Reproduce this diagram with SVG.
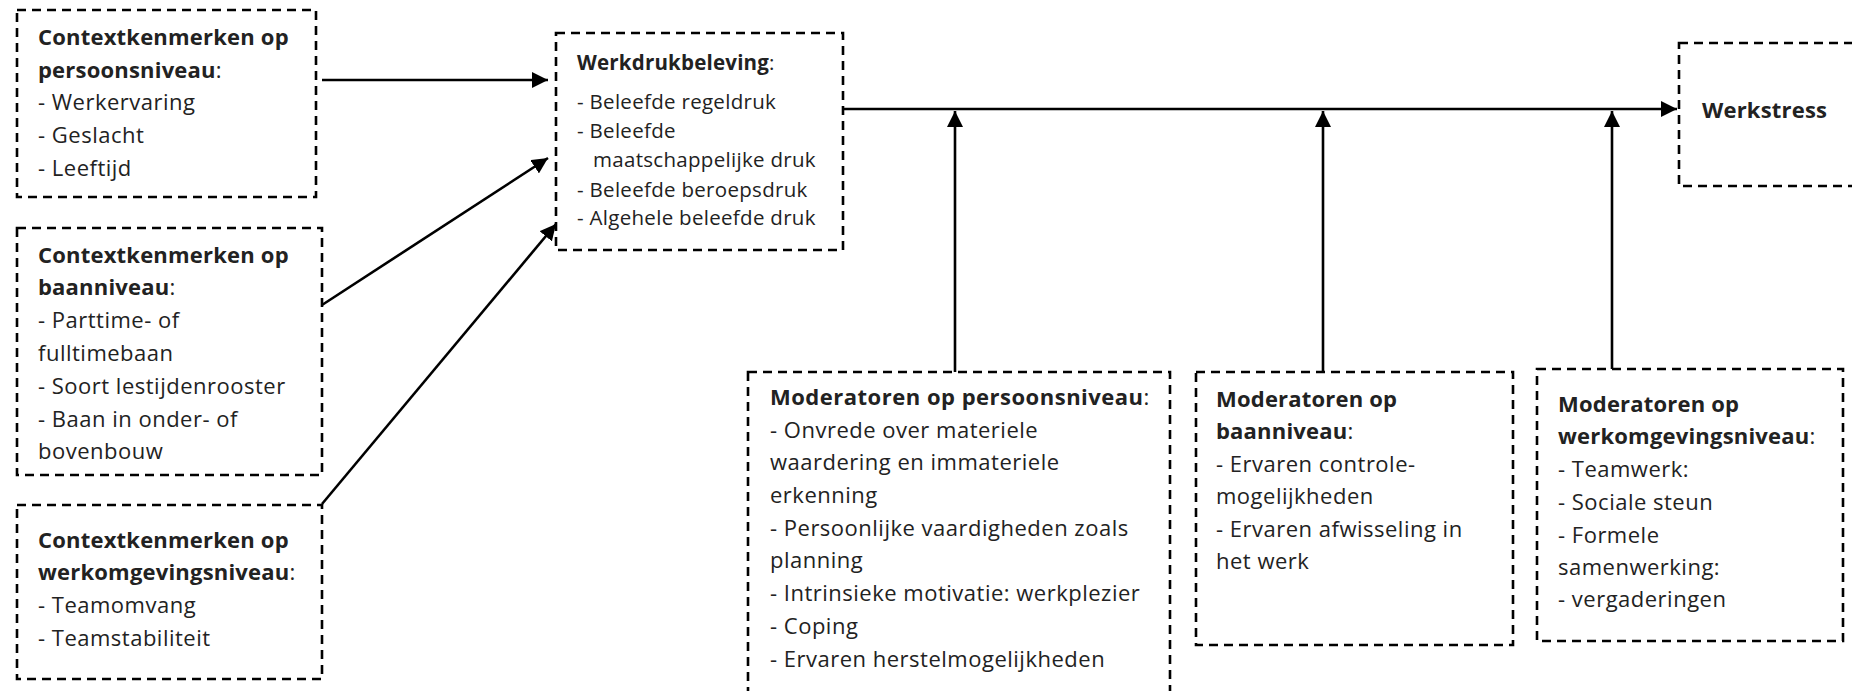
<svg xmlns="http://www.w3.org/2000/svg" width="1852" height="691" viewBox="0 0 1852 691">
<style>
.box{fill:none;stroke:#000;stroke-width:2.6;stroke-dasharray:9 6}
text{font-family:"Open Sans","Liberation Sans",sans-serif;fill:#222;font-size:22px;letter-spacing:0.5px}
.b{font-weight:bold;letter-spacing:0.2px}
.s{font-size:20.5px;letter-spacing:0.3px}
.con{fill:none;stroke:#000;stroke-width:2.6}
</style>
<defs>
<marker id="ah" viewBox="0 0 16 16" refX="16" refY="8" markerWidth="16" markerHeight="16" markerUnits="userSpaceOnUse" orient="auto">
<path d="M0,0 L16,8 L0,16 Z" fill="#000"/>
</marker>
</defs>
<g id="connectors">
<line class="con" x1="322" y1="80" x2="548" y2="80" marker-end="url(#ah)"/>
<line class="con" x1="322" y1="305" x2="548" y2="158" marker-end="url(#ah)"/>
<line class="con" x1="322" y1="504" x2="556" y2="224" marker-end="url(#ah)"/>
<line class="con" x1="843" y1="109" x2="1677" y2="109" marker-end="url(#ah)"/>
<line class="con" x1="955" y1="372" x2="955" y2="111" marker-end="url(#ah)"/>
<line class="con" x1="1323" y1="373" x2="1323" y2="111" marker-end="url(#ah)"/>
<line class="con" x1="1612" y1="369" x2="1612" y2="111" marker-end="url(#ah)"/>
</g>
<g id="ctx-persoon">
<rect class="box" x="17" y="10" width="299" height="187"/>
<text x="38" y="45" class="b">Contextkenmerken op</text>
<text x="38" y="78"><tspan class="b">persoonsniveau</tspan>:</text>
<text x="38" y="110">- Werkervaring</text>
<text x="38" y="143">- Geslacht</text>
<text x="38" y="176">- Leeftijd</text>
</g>
<g id="ctx-baan">
<rect class="box" x="17" y="228" width="305" height="247"/>
<text x="38" y="263" class="b">Contextkenmerken op</text>
<text x="38" y="295"><tspan class="b">baanniveau</tspan>:</text>
<text x="38" y="328">- Parttime- of</text>
<text x="38" y="361">fulltimebaan</text>
<text x="38" y="394">- Soort lestijdenrooster</text>
<text x="38" y="427">- Baan in onder- of</text>
<text x="38" y="459">bovenbouw</text>
</g>
<g id="ctx-werkomgeving">
<rect class="box" x="17" y="505" width="305" height="174"/>
<text x="38" y="548" class="b">Contextkenmerken op</text>
<text x="38" y="580"><tspan class="b">werkomgevingsniveau</tspan>:</text>
<text x="38" y="613">- Teamomvang</text>
<text x="38" y="646">- Teamstabiliteit</text>
</g>
<g id="werkdruk">
<rect class="box" x="556" y="33" width="287" height="217"/>
<text x="577" y="70" class="s"><tspan class="b">Werkdrukbeleving</tspan>:</text>
<text x="577" y="109" class="s">- Beleefde regeldruk</text>
<text x="577" y="138" class="s">- Beleefde</text>
<text x="593" y="167" class="s">maatschappelijke druk</text>
<text x="577" y="197" class="s">- Beleefde beroepsdruk</text>
<text x="577" y="225" class="s">- Algehele beleefde druk</text>
</g>
<g id="werkstress">
<rect class="box" x="1679" y="43" width="190" height="143"/>
<text x="1702" y="118" class="b">Werkstress</text>
</g>
<g id="mod-persoon">
<rect class="box" x="748" y="372" width="422" height="340"/>
<text x="770" y="405"><tspan class="b" style="letter-spacing:0.5px">Moderatoren op persoonsniveau</tspan>:</text>
<text x="770" y="438">- Onvrede over materiele</text>
<text x="770" y="470">waardering en immateriele</text>
<text x="770" y="503">erkenning</text>
<text x="770" y="536">- Persoonlijke vaardigheden zoals</text>
<text x="770" y="568">planning</text>
<text x="770" y="601">- Intrinsieke motivatie: werkplezier</text>
<text x="770" y="634">- Coping</text>
<text x="770" y="667">- Ervaren herstelmogelijkheden</text>
</g>
<g id="mod-baan">
<rect class="box" x="1196" y="372" width="317" height="273"/>
<text x="1216" y="407" class="b">Moderatoren op</text>
<text x="1216" y="439"><tspan class="b">baanniveau</tspan>:</text>
<text x="1216" y="472">- Ervaren controle-</text>
<text x="1216" y="504">mogelijkheden</text>
<text x="1216" y="537">- Ervaren afwisseling in</text>
<text x="1216" y="569">het werk</text>
</g>
<g id="mod-werkomgeving">
<rect class="box" x="1537" y="369" width="306" height="272"/>
<text x="1558" y="412" class="b">Moderatoren op</text>
<text x="1558" y="444"><tspan class="b">werkomgevingsniveau</tspan>:</text>
<text x="1558" y="477">- Teamwerk:</text>
<text x="1558" y="510">- Sociale steun</text>
<text x="1558" y="543">- Formele</text>
<text x="1558" y="575">samenwerking:</text>
<text x="1558" y="607">- vergaderingen</text>
</g>
</svg>
